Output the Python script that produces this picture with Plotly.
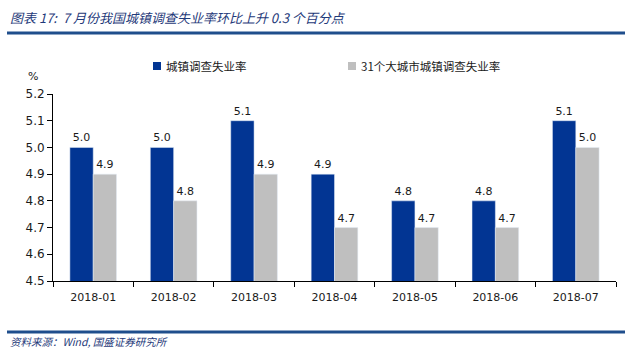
import plotly.graph_objects as go

categories = ["2018-01", "2018-02", "2018-03", "2018-04", "2018-05", "2018-06", "2018-07"]
urban_rate = [5.0, 5.0, 5.1, 4.9, 4.8, 4.8, 5.1]
city31_rate = [4.9, 4.8, 4.9, 4.7, 4.7, 4.7, 5.0]
series_names = ["城镇调查失业率", "31个大城市城镇调查失业率"]
y_ticks = [4.5, 4.6, 4.7, 4.8, 4.9, 5.0, 5.1, 5.2]

W, H = 631, 348
BLUE = "#023593"
GRAY = "#BFBFBF"
TXT = "#1a1a1a"
NUM_FONT = "DejaVu Sans"
CJK = "Noto Sans CJK SC"
PL, PT, PW, PH = 53, 94, 563, 187


def px(x):
    return (x - PL) / PW


def py(y):
    return 1 - (y - PT) / PH


fig = go.Figure()
fig.add_trace(go.Bar(
    x=categories, y=urban_rate, name=series_names[0], marker_color=BLUE,
    text=[f"{v:.1f}" for v in urban_rate], textposition="outside",
    textfont=dict(family=NUM_FONT, size=11, color=TXT), cliponaxis=False,
))
fig.add_trace(go.Bar(
    x=categories, y=city31_rate, name=series_names[1], marker_color=GRAY,
    text=[f"{v:.1f}" for v in city31_rate], textposition="outside",
    textfont=dict(family=NUM_FONT, size=11, color=TXT), cliponaxis=False,
))

fig.update_layout(
    width=W, height=H,
    margin=dict(l=PL, r=W - PL - PW, t=PT, b=H - PT - PH),
    paper_bgcolor="white", plot_bgcolor="white",
    barmode="group", bargap=0.42, bargroupgap=0,
    font=dict(family=NUM_FONT, size=11, color=TXT),
    showlegend=False,
    xaxis=dict(
        type="category", showline=True, linecolor="black", linewidth=1,
        ticks="outside", tickson="boundaries", ticklen=5, tickcolor="black",
        tickfont=dict(family=NUM_FONT, size=11, color=TXT), showgrid=False,
        ticklabelstandoff=6,
    ),
    yaxis=dict(
        range=[4.5, 5.2], tickvals=y_ticks, ticktext=[f"{v:.1f}" for v in y_ticks],
        showline=True, linecolor="black", linewidth=1,
        ticks="outside", ticklen=5, tickcolor="black", showgrid=False,
        tickfont=dict(family=NUM_FONT, size=12, color=TXT), zeroline=False,
    ),
)

# manual legend
for xm, color, name in [(157, BLUE, series_names[0]), (352, GRAY, series_names[1])]:
    fig.add_shape(type="rect", xref="paper", yref="paper",
                  x0=px(xm - 4), x1=px(xm + 4), y0=py(70), y1=py(62),
                  fillcolor=color, line=dict(width=0))
    fig.add_annotation(xref="paper", yref="paper", x=px(xm + 7), y=py(66),
                       xanchor="left", yanchor="middle", showarrow=False,
                       text=name, font=dict(family=CJK, size=11.5, color=TXT))

# title
fig.add_annotation(xref="paper", yref="paper", x=px(8), y=py(17),
                   xanchor="left", yanchor="middle", showarrow=False,
                   text="图表 17:  7 月份我国城镇调查失业率环比上升 0.3 个百分点",
                   font=dict(family=CJK, size=13, color="#1F3A7A", style="italic"))
# % label
fig.add_annotation(xref="paper", yref="paper", x=px(33), y=py(76),
                   xanchor="center", yanchor="middle", showarrow=False,
                   text="%", font=dict(family=NUM_FONT, size=11, color=TXT))
# source
fig.add_annotation(xref="paper", yref="paper", x=px(8), y=py(341),
                   xanchor="left", yanchor="middle", showarrow=False,
                   text="资料来源：Wind, 国盛证券研究所",
                   font=dict(family=CJK, size=10.5, color="#1F3A7A", style="italic"))

# rules
fig.add_shape(type="line", xref="paper", yref="paper",
              x0=px(7), x1=px(625), y0=py(33), y1=py(33),
              line=dict(color="#1F4E8C", width=3))
fig.add_shape(type="line", xref="paper", yref="paper",
              x0=px(7), x1=px(625), y0=py(332), y1=py(332),
              line=dict(color="#1F4E8C", width=3))

fig.write_html("out.html")
